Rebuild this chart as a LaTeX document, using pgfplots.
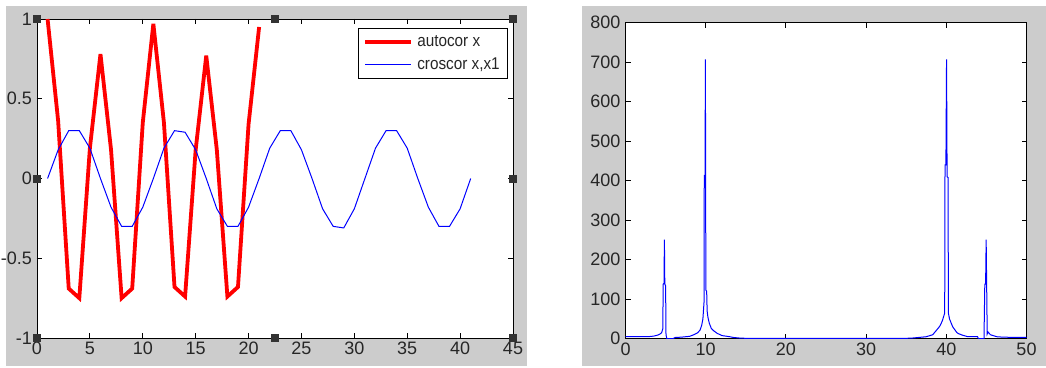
\documentclass[border=0pt]{standalone}
\usepackage{fontspec}
\setmainfont{Liberation Sans}
\newfontfamily\legfont[FakeStretch=0.9]{Liberation Sans}
\usepackage{pgfplots}
\pgfplotsset{compat=1.18}
\definecolor{figgray}{RGB}{204,204,204}
\definecolor{mred}{RGB}{255,0,0}
\definecolor{mblue}{RGB}{0,0,255}
\pgfplotsset{mstyle/.style={
  scale only axis, anchor=south west,
  axis background/.style={fill=white},
  axis line style={black, line width=0.9pt},
  tick align=inside, major tick length=5pt,
  tick style={black, line width=0.9pt},
  ticklabel style={font=\fontsize{18}{20}\selectfont, text=black!85, inner sep=0pt},
  xticklabel shift=4pt, yticklabel shift=5pt,
  /pgf/number format/assume math mode=true,
}}
\begin{document}
\begin{tikzpicture}
\fill[white] (0pt,0pt) rectangle (1046pt,367pt);
\fill[figgray] (6pt,1pt) rectangle (527pt,361pt);
\fill[figgray] (582pt,1pt) rectangle (1046pt,361pt);
\begin{axis}[mstyle,
  at={(37pt,29pt)}, width=476pt, height=319pt,
  xmin=0, xmax=45, ymin=-1, ymax=1,
  xtick={0,5,...,45},
  ytick={-1,-0.5,0,0.5,1},
  yticklabels={-1,-0.5,0,0.5,1},
  legend cell align=left,
  legend image code/.code={\draw[#1] (0pt,0pt) -- (46pt,0pt);},
  legend style={at={(0.6744,0.9718)}, anchor=north west, draw=black, line width=0.9pt, fill=white,
    inner xsep=5pt, inner ysep=4.5pt, row sep=3pt, column sep=1pt,
    nodes={inner sep=3pt, text depth=0.15em},
    font=\legfont\fontsize{17}{19}\selectfont, text=black!85},
]
\addplot[mred, line width=3.8pt, line join=miter, miter limit=3] coordinates {
(1,1.0) (2,0.36) (3,-0.69) (4,-0.75) (5,0.19) (6,0.78) (7,0.18) (8,-0.75) (9,-0.69)
(10,0.35) (11,0.97) (12,0.35) (13,-0.68) (14,-0.74) (15,0.18) (16,0.77) (17,0.18)
(18,-0.74) (19,-0.68) (20,0.34) (21,0.95)};
\addlegendentry{autocor x}
\addplot[mblue, line width=1pt] coordinates {
(1,0) (2,0.18) (3,0.30) (4,0.30) (5,0.19) (6,0.0) (7,-0.18) (8,-0.30) (9,-0.30) (10,-0.18)
(11,0.0) (12,0.19) (13,0.30) (14,0.29) (15,0.18) (16,0) (17,-0.19) (18,-0.30) (19,-0.30) (20,-0.18)
(21,0) (22,0.19) (23,0.30) (24,0.30) (25,0.18) (26,0) (27,-0.19) (28,-0.30) (29,-0.31) (30,-0.19)
(31,0) (32,0.19) (33,0.30) (34,0.30) (35,0.19) (36,0) (37,-0.18) (38,-0.30) (39,-0.30) (40,-0.19)
(41,0)};
\addlegendentry{croscor x,x1}
\addplot[only marks, mark=square*, mark size=3.5pt, mark options={fill=black!80, draw=black!80}, forget plot]
coordinates {(0,1) (22.5,1) (45,1) (0,0) (45,0) (0,-1) (22.5,-1) (45,-1)};
\end{axis}
\begin{axis}[mstyle,
  at={(625.5pt,28.3pt)}, width=401pt, height=316pt,
  xmin=0, xmax=50, ymin=0, ymax=800,
  xtick={0,10,...,50},
  ytick={0,100,...,800},
]
\addplot[mblue, line width=1pt] coordinates {
(0,5) (1,5) (2,5) (3,5.5) (3.5,6.5) (4,9) (4.3,12) (4.5,15) (4.65,25)
(4.70,138) (4.80,140) (4.85,251) (4.90,138) (5.00,134) (5.05,10) (5.15,0)
(5.9,0) (6.2,3) (7,4) (8,6) (8.5,10) (9,15) (9.3,22) (9.5,34) (9.65,50) (9.75,80) (9.80,95)
(9.82,412) (9.92,410) (9.96,707) (10.02,123) (10.12,120) (10.18,70) (10.27,55) (10.45,39)
(10.7,26) (11,20) (11.4,14) (12,8) (13,5) (13.5,3) (14.3,1.5) (15,1) (20,1) (25,1) (30,1) (35,1)
(35.7,1.5) (36.5,3) (37.5,5) (38.3,10) (38.8,22) (39.2,32) (39.5,45) (39.8,65)
(39.84,440) (39.95,440) (40.03,707) (40.10,410) (40.22,408) (40.26,65) (40.4,50) (40.8,30)
(41.3,16) (41.5,13) (42,9) (42.7,5) (43.1,5) (43.9,5) (44.0,0) (44.7,0)
(44.80,138) (44.90,138) (44.97,251) (45.03,140) (45.1,12) (45.2,17) (45.5,10) (46.3,5) (47,4) (48,3.5) (50,3.5)};
\end{axis}
\end{tikzpicture}
\end{document}
